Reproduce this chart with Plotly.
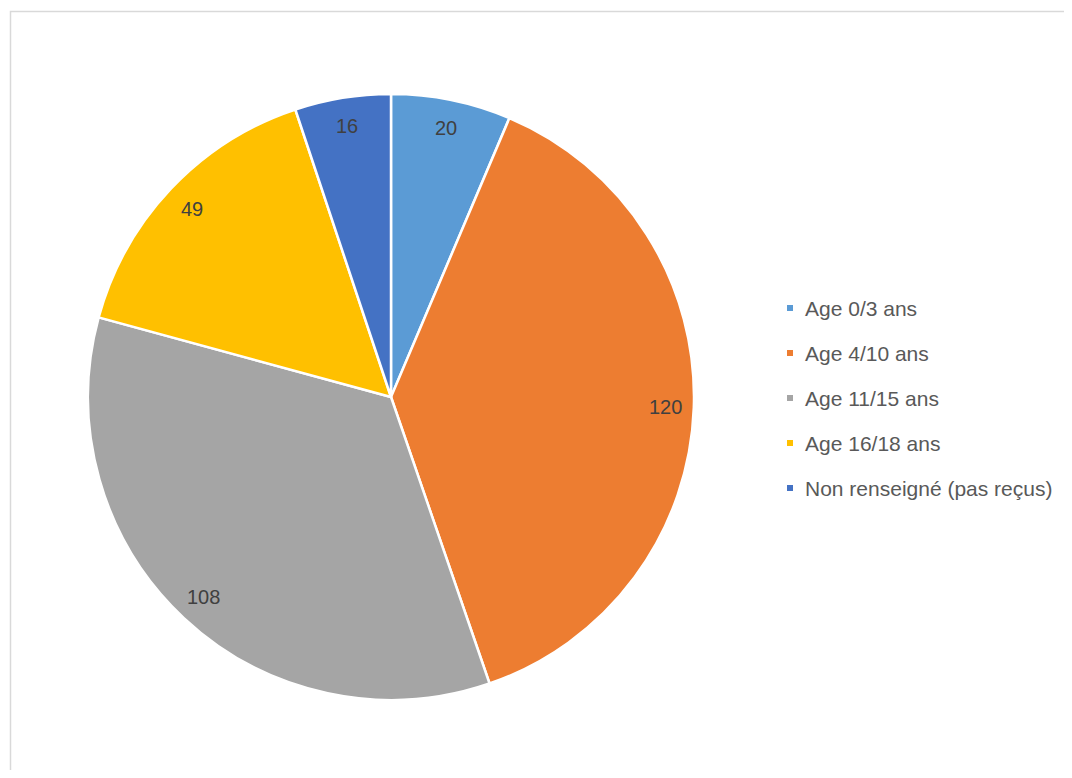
import plotly.graph_objects as go
import math

categories = ["Age 0/3 ans", "Age 4/10 ans", "Age 11/15 ans", "Age 16/18 ans", "Non renseigné (pas reçus)"]
values = [20, 120, 108, 49, 16]
colors = ["#5B9BD5", "#ED7D31", "#A5A5A5", "#FFC000", "#4472C4"]

OFF = 8  # page body margin
W, H = 1072 - 2 * OFF, 778 - 2 * OFF
cx, cy, R = 391 - OFF, 397 - OFF, 303  # pie center / radius in figure pixels

dom_x = [(cx - R) / W, (cx + R) / W]
dom_y = [1 - (cy + R) / H, 1 - (cy - R) / H]

fig = go.Figure()
fig.add_trace(go.Pie(
    labels=categories,
    values=values,
    sort=False,
    direction="clockwise",
    rotation=0,
    marker=dict(colors=colors, line=dict(color="white", width=2.5)),
    textinfo="none",
    hoverinfo="label+value",
    domain=dict(x=dom_x, y=dom_y),
    showlegend=False,
))

annotations = []
shapes = []

# data labels near the outer edge of each slice
total = sum(values)
cum = 0
for v in values:
    mid = (cum + v / 2) / total * 2 * math.pi
    cum += v
    r = 0.905 * R
    px = cx + r * math.sin(mid)
    py = cy - r * math.cos(mid)
    annotations.append(dict(
        x=px / W, y=1 - py / H, xref="paper", yref="paper",
        text=str(v), showarrow=False, xanchor="center", yanchor="middle",
        font=dict(family="Liberation Sans, Arial, sans-serif", size=20, color="#404040"),
    ))

# manual legend
leg_x, leg_y0, leg_dy = 790 - OFF, 308 - OFF, 45
for i, (cat, col) in enumerate(zip(categories, colors)):
    yc = leg_y0 + i * leg_dy
    shapes.append(dict(
        type="rect", xref="paper", yref="paper",
        x0=(leg_x - 3) / W, x1=(leg_x + 3) / W,
        y0=1 - (yc + 3) / H, y1=1 - (yc - 3) / H,
        fillcolor=col, line=dict(width=0),
    ))
    annotations.append(dict(
        x=(leg_x + 13) / W, y=1 - yc / H, xref="paper", yref="paper",
        text=cat, showarrow=False, xanchor="left", yanchor="middle",
        font=dict(family="Liberation Sans, Arial, sans-serif", size=21, color="#595959"),
    ))

# chart border (light gray)
shapes.append(dict(
    type="rect", xref="paper", yref="paper",
    x0=(10.5 - OFF) / W, x1=1.05, y0=-0.05, y1=1 - (11.5 - OFF) / H,
    line=dict(color="#D9D9D9", width=1.5), fillcolor="rgba(0,0,0,0)",
))

fig.update_layout(
    width=W, height=H,
    margin=dict(l=0, r=0, t=0, b=0),
    paper_bgcolor="white",
    plot_bgcolor="white",
    annotations=annotations,
    shapes=shapes,
)

fig.write_html("out.html")
